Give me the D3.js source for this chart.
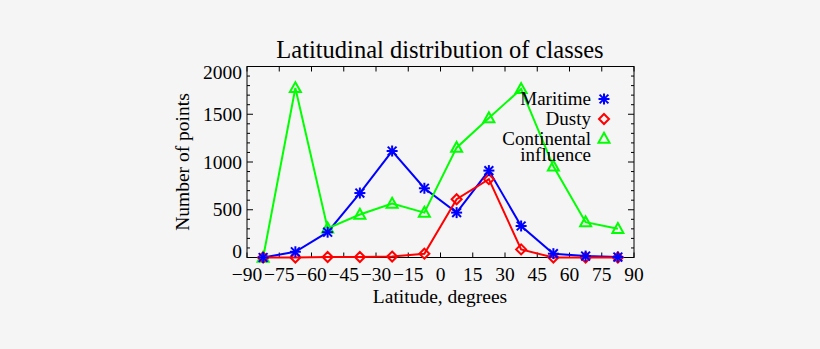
<!DOCTYPE html>
<html>
<head>
<meta charset="utf-8">
<script src="https://cdn.jsdelivr.net/npm/d3@7"></script>
<style>
  html, body { margin: 0; padding: 0; background: #f5f5f5; }
  svg { display: block; }
  text { font-family: "Liberation Serif", "DejaVu Serif", serif; fill: #000; }
</style>
</head>
<body>
<svg id="chart" width="820" height="349"></svg>
<script>
// Bin centres in degrees latitude (15-degree bins)
const latitudes = [-82.5, -67.5, -52.5, -37.5, -22.5, -7.5, 7.5, 22.5, 37.5, 52.5, 67.5, 82.5];
const maritime    = [0, 60, 265, 675, 1115, 725, 470, 910, 330, 40, 15, 5];
const dusty       = [0, 0, 5, 5, 10, 40, 610, 820, 85, 0, 0, 0];
const continental = [0, 1775, 305, 450, 565, 470, 1150, 1460, 1765, 955, 370, 300];

const xTicks = [-90, -75, -60, -45, -30, -15, 0, 15, 30, 45, 60, 75, 90];
const yTicks = [0, 500, 1000, 1500, 2000];

const seriesNames = ["Maritime", "Dusty", "Continental"];
const seriesColors = ["#0000ff", "#ff0000", "#00ff00"];
const seriesMarks = ["asterisk", "diamond", "triangle"];

const svg = d3.select("#chart");
const plot = { left: 247, right: 634, top: 66.5, bottom: 257.5 };

const x = d3.scaleLinear().domain([-90, 90]).range([plot.left, plot.right]);
const y = d3.scaleLinear().domain([0, 2000]).range([plot.bottom, plot.top]);

// Frame
svg.append("rect")
  .attr("x", plot.left).attr("y", plot.top)
  .attr("width", plot.right - plot.left).attr("height", plot.bottom - plot.top)
  .attr("fill", "none").attr("stroke", "#000").attr("stroke-width", 1);

// Ticks on all four sides (major + minor on y)
const tickG = svg.append("g").attr("stroke", "#000").attr("stroke-width", 1);
xTicks.forEach(t => {
  const px = x(t);
  tickG.append("line").attr("x1", px).attr("x2", px).attr("y1", plot.bottom).attr("y2", plot.bottom - 5);
  tickG.append("line").attr("x1", px).attr("x2", px).attr("y1", plot.top).attr("y2", plot.top + 5);
});
d3.range(0, 2001, 100).forEach(v => {
  const major = v % 500 === 0;
  const len = major ? 6 : 3;
  const py = y(v);
  tickG.append("line").attr("x1", plot.left).attr("x2", plot.left + len).attr("y1", py).attr("y2", py);
  tickG.append("line").attr("x1", plot.right).attr("x2", plot.right - len).attr("y1", py).attr("y2", py);
});

// Tick labels
const fmt = d => d < 0 ? "\u2212" + Math.abs(d) : String(d);
svg.append("g").selectAll("text").data(xTicks).join("text")
  .attr("x", d => x(d)).attr("y", 281)
  .attr("text-anchor", "middle")
  .attr("font-size", 19.5)
  .text(fmt);

svg.append("g").selectAll("text").data(yTicks).join("text")
  .attr("x", 242)
  .attr("y", d => y(d) + 6.5 + (d === 2000 ? 6 : d === 0 ? -6 : 0))
  .attr("text-anchor", "end")
  .attr("font-size", 19.5)
  .text(d => d);

// Titles
svg.append("text").attr("x", 440).attr("y", 57.5).attr("text-anchor", "middle")
  .attr("font-size", 24.5).text("Latitudinal distribution of classes");
svg.append("text").attr("x", 440).attr("y", 303).attr("text-anchor", "middle")
  .attr("font-size", 19.5).text("Latitude, degrees");
svg.append("text")
  .attr("transform", "translate(189,162) rotate(-90)")
  .attr("text-anchor", "middle")
  .attr("font-size", 19.5).text("Number of points");

// Marker drawing
function drawMark(g, kind, cx, cy, color) {
  if (kind === "asterisk") {
    const r = 5.5;
    const m = g.append("g").attr("stroke", color).attr("stroke-width", 2);
    m.append("line").attr("x1", cx).attr("x2", cx).attr("y1", cy - r).attr("y2", cy + r);
    m.append("line").attr("x1", cx - r).attr("x2", cx + r).attr("y1", cy).attr("y2", cy);
    const d = r * 0.8;
    m.append("line").attr("x1", cx - d).attr("x2", cx + d).attr("y1", cy - d).attr("y2", cy + d);
    m.append("line").attr("x1", cx - d).attr("x2", cx + d).attr("y1", cy + d).attr("y2", cy - d);
  } else if (kind === "diamond") {
    const r = 5;
    g.append("path")
      .attr("d", `M${cx},${cy - r}L${cx + r},${cy}L${cx},${cy + r}L${cx - r},${cy}Z`)
      .attr("fill", "none").attr("stroke", color).attr("stroke-width", 2);
  } else {
    const r = 5.5;
    g.append("path")
      .attr("d", `M${cx},${cy - r * 1.05}L${cx + r},${cy + r * 0.75}L${cx - r},${cy + r * 0.75}Z`)
      .attr("fill", "none").attr("stroke", color).attr("stroke-width", 2);
  }
}

const line = d3.line().x((d, i) => x(latitudes[i])).y(d => y(d));
[maritime, dusty, continental].forEach((vals, k) => {
  const g = svg.append("g");
  g.append("path").datum(vals).attr("d", line)
    .attr("fill", "none").attr("stroke", seriesColors[k]).attr("stroke-width", 2);
});
// Markers on top of the lines
[continental, dusty, maritime].forEach((vals, j) => {
  const k = 2 - j;
  const g = svg.append("g");
  vals.forEach((v, i) => drawMark(g, seriesMarks[k], x(latitudes[i]), y(v), seriesColors[k]));
});

// Legend
const legendRows = [
  { lines: ["Maritime"], y: 99 },
  { lines: ["Dusty"], y: 119 },
  { lines: ["Continental", "influence"], y: 138.5 }
];
const lg = svg.append("g");
legendRows.forEach((row, k) => {
  row.lines.forEach((t, li) => {
    lg.append("text").attr("x", 591).attr("y", row.y + 6 + li * 16)
      .attr("text-anchor", "end").attr("font-size", 19).text(t);
  });
  drawMark(lg, seriesMarks[k], 604, row.y, seriesColors[k]);
});
</script>
</body>
</html>
